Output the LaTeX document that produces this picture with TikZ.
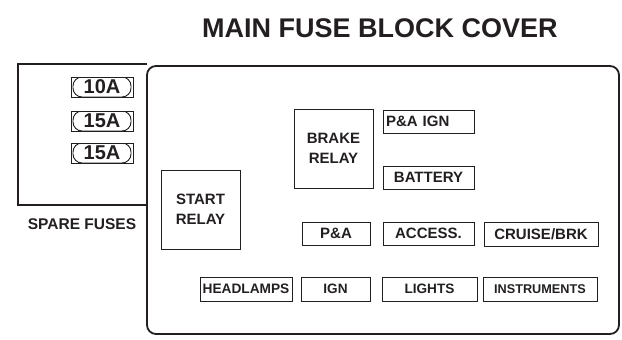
\documentclass[tikz,border=0pt]{standalone}
\usepackage{fontspec}
\setmainfont{Liberation Sans}
\usetikzlibrary{positioning,calc}
\usepackage{xcolor}
\definecolor{inkcol}{RGB}{35,31,32}

\begin{document}
\begin{tikzpicture}[
    x=1pt, y=-1pt,
    font=\bfseries,
    every node/.style={color=inkcol},
    slot/.style={draw=inkcol, line width=0.9pt, inner sep=0pt,
                 minimum height=23pt, minimum width=#1,
                 font=\fontsize{15}{18}\selectfont\bfseries},
    slot/.default=91pt,
    relaybox/.style={draw=inkcol, line width=0.9pt, inner sep=0pt,
                 minimum size=79pt, align=center,
                 font=\fontsize{15}{20}\selectfont\bfseries},
    fuse/.style={draw=inkcol, line width=0.8pt, inner sep=0pt,
                 minimum width=62pt, minimum height=20pt,
                 font=\fontsize{20}{22}\selectfont\bfseries,
                 path picture={\draw[inkcol, line width=0.9pt, rounded corners=9pt]
                   ([xshift=2pt]path picture bounding box.south west) rectangle
                   ([xshift=-2pt]path picture bounding box.north east);}},
    cover/.style={draw=inkcol, line width=1.8pt, rounded corners=9pt},
]
\useasboundingbox (0,0) rectangle (622,340);

% ---- Title ----
\node[font=\fontsize{27}{30}\selectfont\bfseries] (title) at (380,28) {MAIN FUSE BLOCK COVER};

% ---- Cover outline ----
\draw[cover] (147,66) rectangle (619,334);
\draw[inkcol, line width=1.2pt] (147,64) -- (18,64) -- (18,205) -- (147,205);

% ---- Spare fuses ----
\foreach \amp/\y [count=\i] in {10A/87,15A/121,15A/153}
  \node[fuse] (fuse\i) at (102,\y) {\amp};
\node[font=\fontsize{15.5}{18}\selectfont\bfseries] (spare) at (82,224) {SPARE FUSES};

% ---- Relays ----
\node[relaybox] (brake) at (333.5,148.5) {BRAKE\\RELAY};
\node[relaybox] (start) at (200.5,209.5) {START\\RELAY};

% ---- Fuse slots ----
\node[slot, text width=85pt, align=left] (paign) at (428.5,121.5) {P\&A IGN};
\node[slot] (battery) at (428.5,177.5) {BATTERY};
\node[slot=68pt] (pa) at (336,233.5) {P\&A};
\node[slot] (access) at (428.5,233.5) {ACCESS.};
\node[slot=114pt, minimum height=24pt] (cruise) at (541,234) {CRUISE/BRK};

\node[slot=92pt, minimum height=24pt, font=\fontsize{13.7}{16}\selectfont\bfseries] (headlamps) at (246,289) {HEADLAMPS};
\node[slot=69pt, minimum height=24pt, font=\fontsize{13.6}{16}\selectfont\bfseries] (ign) at (335.5,289) {IGN};
\node[slot=95pt, minimum height=24pt, font=\fontsize{13.6}{16}\selectfont\bfseries] (lights) at (429.5,289) {LIGHTS};
\node[slot=114pt, minimum height=24pt, font=\fontsize{12.7}{15}\selectfont\bfseries] (instr) at (540,289) {INSTRUMENTS};

\end{tikzpicture}
\end{document}
